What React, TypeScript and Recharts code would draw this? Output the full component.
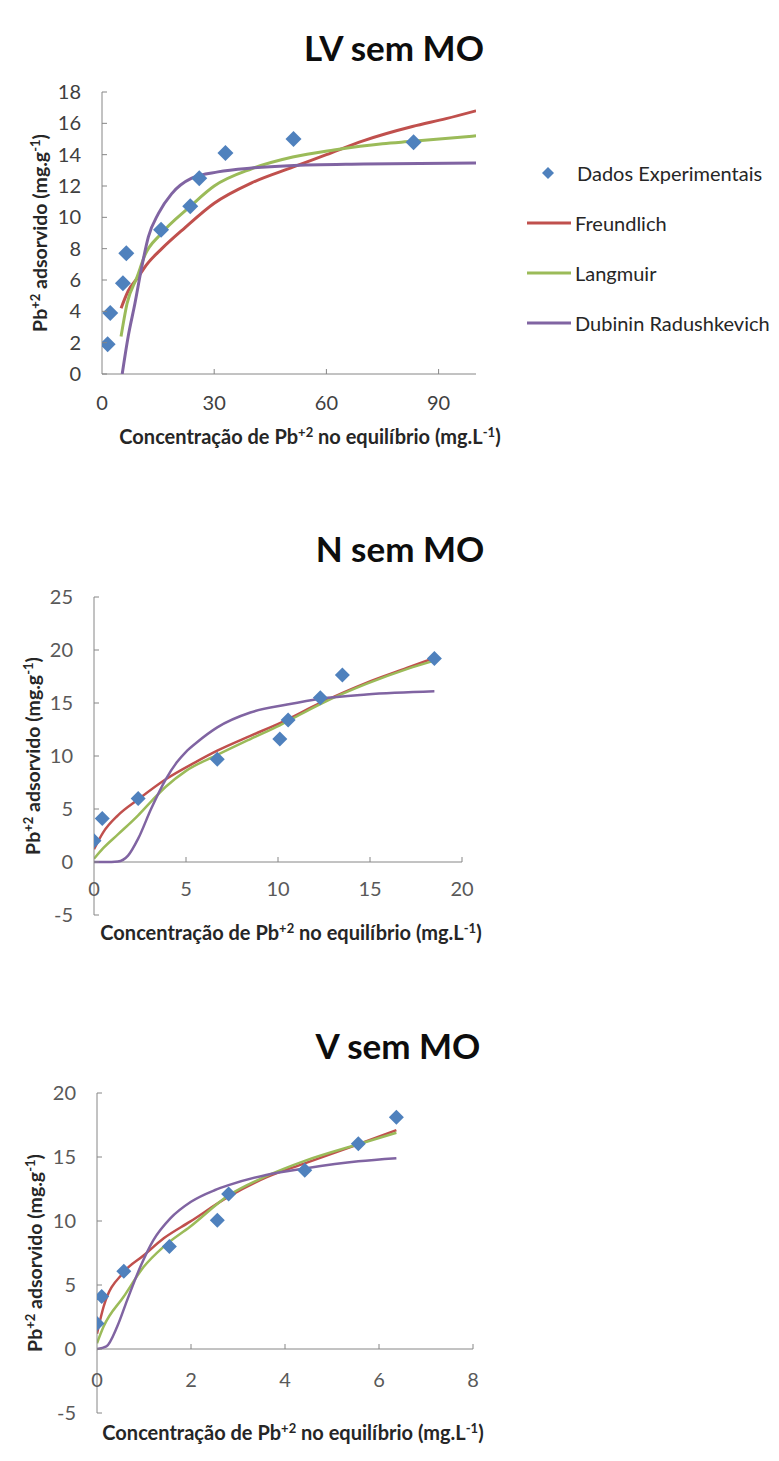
import React from "react";
import { ComposedChart, Scatter, Line, XAxis, YAxis, ReferenceLine } from "recharts";

const FONT = "Lato, 'Open Sans', sans-serif";
const BLUE = "#4F81BD";
const RED = "#C0504D";
const GREEN = "#9BBB59";
const PURPLE = "#8064A2";
const AXIS = "#868686";

// LV sem MO
const lvExpX = [1.5, 2.2, 5.6, 6.5, 15.8, 23.6, 26.0, 33.0, 51.2, 83.3];
const lvExpY = [1.9, 3.9, 5.8, 7.7, 9.2, 10.7, 12.5, 14.1, 15.0, 14.8];
const lvFreundX = [5.1, 7, 9.7, 12, 16, 22, 30, 40, 51, 60, 70, 83, 92, 100];
const lvFreundY = [4.2, 5.3, 6.2, 7.0, 8.0, 9.3, 10.9, 12.2, 13.2, 14.0, 14.9, 15.8, 16.3, 16.8];
const lvLangX = [5.1, 6.7, 9.4, 11.5, 15.6, 23.6, 30, 40, 51, 62, 75, 83, 100];
const lvLangY = [2.4, 4.5, 6.2, 7.6, 8.9, 10.7, 12.0, 13.1, 13.85, 14.3, 14.7, 14.85, 15.2];
const lvDrX = [5.4, 7.0, 8.8, 10.6, 12.4, 15.1, 18.6, 24, 31, 40, 50, 70, 100];
const lvDrY = [0, 2.4, 4.5, 6.8, 8.75, 10.25, 11.5, 12.5, 12.9, 13.15, 13.3, 13.4, 13.47];
const lvXTicks = [0, 30, 60, 90];
const lvYTicks = [0, 2, 4, 6, 8, 10, 12, 14, 16, 18];

// N sem MO
const nExpX = [0, 0.45, 2.4, 6.7, 10.1, 10.55, 12.3, 13.5, 18.5];
const nExpY = [2.0, 4.1, 6.0, 9.7, 11.6, 13.4, 15.5, 17.65, 19.2];
const nFreundX = [0, 0.5, 1.3, 2.4, 3.9, 5.5, 6.7, 8.5, 10.1, 12.3, 14.8, 17, 18.5];
const nFreundY = [1.2, 2.8, 4.4, 5.9, 7.8, 9.4, 10.5, 11.9, 13.1, 15.0, 16.9, 18.3, 19.25];
const nLangX = [0, 0.5, 1.3, 2.4, 3.1, 3.9, 5, 6.7, 8.5, 10.1, 12.3, 14.8, 17, 18.5];
const nLangY = [0.3, 1.3, 2.6, 4.4, 5.7, 7.1, 8.6, 10.1, 11.6, 12.9, 14.9, 16.8, 18.2, 19.0];
const nDrX = [0, 0.6, 1.3, 1.85, 2.4, 3.1, 3.9, 4.5, 5.0, 5.6, 6.7, 8.5, 10.5, 12.3, 14.8, 18.5];
const nDrY = [0, 0, 0.05, 0.6, 2.2, 5.0, 7.8, 9.4, 10.4, 11.3, 12.7, 14.1, 14.85, 15.4, 15.8, 16.1];
const nXTicks = [0, 5, 10, 15, 20];
const nYTicks = [-5, 0, 5, 10, 15, 20, 25];

// V sem MO
const vExpX = [0, 0.1, 0.57, 1.54, 2.56, 2.8, 4.42, 5.56, 6.37];
const vExpY = [2.0, 4.1, 6.07, 8.0, 10.05, 12.1, 13.96, 16.04, 18.1];
const vFreundX = [0, 0.14, 0.57, 0.99, 1.42, 1.98, 2.8, 3.6, 4.42, 5.56, 6.37];
const vFreundY = [1.2, 3.3, 6.0, 7.3, 8.65, 9.95, 11.9, 13.4, 14.5, 16.0, 17.1];
const vLangX = [0, 0.14, 0.57, 0.99, 1.42, 1.98, 2.8, 3.6, 4.42, 5.56, 6.37];
const vLangY = [0.45, 1.75, 4.1, 6.4, 8.0, 9.55, 12.0, 13.5, 14.7, 16.0, 16.9];
const vDrX = [0, 0.2, 0.43, 0.64, 0.92, 1.2, 1.56, 2.0, 2.5, 2.8, 3.6, 4.42, 5.56, 6.37];
const vDrY = [0, 0.2, 1.75, 3.8, 6.4, 8.5, 10.2, 11.5, 12.4, 12.8, 13.6, 14.1, 14.66, 14.9];
const vXTicks = [0, 2, 4, 6, 8];
const vYTicks = [-5, 0, 5, 10, 15, 20];

const legendNames = ["Dados Experimentais", "Freundlich", "Langmuir", "Dubinin Radushkevich"];

const pts = (xs: number[], ys: number[]) => xs.map((x, i) => ({ x, y: ys[i] }));

const Diamond = (r: number) => (props: any) => {
  const { cx, cy } = props;
  if (cx == null || cy == null) return null;
  return (
    <polygon
      points={`${cx},${cy - r} ${cx + r},${cy} ${cx},${cy + r} ${cx - r},${cy}`}
      fill={BLUE}
    />
  );
};

const YTick = ({ x, y, payload, color }: any) => (
  <g>
    <line x1={x} x2={x + 5} y1={y} y2={y} stroke={AXIS} />
    <text x={x - 21} y={y} dy={7} textAnchor="end" fontSize={20} fill={color} fontFamily={FONT}>
      {payload.value}
    </text>
  </g>
);

// shift = distance in px between the plot bottom and the y=0 line
const XTick = ({ x, y, payload, color, shift, off }: any) => {
  const y0 = y - shift;
  return (
    <g>
      {payload.value !== 0 && <line x1={x} x2={x} y1={y0} y2={y0 - 5} stroke={AXIS} />}
      <text x={x} y={y0 + off} textAnchor="middle" fontSize={20} fill={color} fontFamily={FONT}>
        {payload.value}
      </text>
    </g>
  );
};

const YTitle = ({ viewBox, cx }: any) => {
  const cy = viewBox.y + viewBox.height / 2;
  return (
    <text
      transform={`translate(${cx},${cy}) rotate(-90)`}
      textAnchor="middle"
      fontSize={19.5}
      fontWeight="bold"
      fill="#262626"
      fontFamily={FONT}
    >
      Pb<tspan dy={-7} fontSize={13}>+2</tspan>
      <tspan dy={7}> adsorvido (mg.g</tspan>
      <tspan dy={-7} fontSize={13}>-1</tspan>
      <tspan dy={7}>)</tspan>
    </text>
  );
};

const XTitle = ({ viewBox, dx, dy }: any) => (
  <text
    x={viewBox.x + viewBox.width / 2 + dx}
    y={viewBox.y + dy}
    textAnchor="middle"
    fontSize={20}
    fontWeight="bold"
    fill="#262626"
    fontFamily={FONT}
  >
    Concentração de Pb<tspan dy={-7} fontSize={13}>+2</tspan>
    <tspan dy={7}> no equilíbrio (mg.L</tspan>
    <tspan dy={-7} fontSize={13}>-1</tspan>
    <tspan dy={7}>)</tspan>
  </text>
);

type PanelProps = {
  top: number;
  height: number;
  title: string;
  titleX: number;
  titleY: number;
  margin: { top: number; right: number; bottom: number; left: number };
  xDomain: [number, number];
  xTicks: number[];
  yDomain: [number, number];
  yTicks: number[];
  exp: { x: number; y: number }[];
  freund: { x: number; y: number }[];
  lang: { x: number; y: number }[];
  dr: { x: number; y: number }[];
  tickColor: string;
  zeroShift: number;
  xTickOff: number;
  yTitleX: number;
  xTitleDx: number;
  xTitleDy: number;
  r: number;
  lw: number;
  legend?: boolean;
};

function Panel(p: PanelProps) {
  return (
    <div style={{ position: "absolute", left: 0, top: p.top, width: 779, height: p.height }}>
      <div
        style={{
          position: "absolute",
          left: p.titleX - 150,
          top: p.titleY - 22,
          width: 300,
          textAlign: "center",
          fontFamily: FONT,
          fontWeight: "bold",
          fontSize: 35,
          lineHeight: "44px",
          color: "#0d0d0d",
        }}
      >
        {p.title}
      </div>
      <ComposedChart width={779} height={p.height} margin={p.margin}>
        <XAxis
          type="number"
          dataKey="x"
          domain={p.xDomain}
          ticks={p.xTicks}
          interval={0}
          allowDataOverflow
          axisLine={false}
          tickLine={false}
          tickSize={0}
          tickMargin={0}
          height={40}
          tick={<XTick color={p.tickColor} shift={p.zeroShift} off={p.xTickOff} />}
          label={<XTitle dx={p.xTitleDx} dy={p.xTitleDy} />}
        />
        <YAxis
          type="number"
          dataKey="y"
          domain={p.yDomain}
          ticks={p.yTicks}
          interval={0}
          allowDataOverflow
          width={60}
          axisLine={{ stroke: AXIS }}
          tickLine={false}
          tickSize={0}
          tickMargin={0}
          tick={<YTick color={p.tickColor} />}
          label={<YTitle cx={p.yTitleX} />}
        />
        <ReferenceLine y={0} stroke={AXIS} />
        <Scatter data={p.exp} shape={Diamond(p.r)} isAnimationActive={false} />
        <Line data={p.freund} dataKey="y" type="monotone" stroke={RED} strokeWidth={p.lw} dot={false} isAnimationActive={false} />
        <Line data={p.lang} dataKey="y" type="monotone" stroke={GREEN} strokeWidth={p.lw} dot={false} isAnimationActive={false} />
        <Line data={p.dr} dataKey="y" type="monotone" stroke={PURPLE} strokeWidth={p.lw} dot={false} isAnimationActive={false} />
      </ComposedChart>
      {p.legend && (
        <div style={{ position: "absolute", left: 525, top: 148, fontFamily: FONT, fontSize: 20, color: "#262626" }}>
          {legendNames.map((name, i) => (
            <div key={name} style={{ display: "flex", alignItems: "center", height: 50 }}>
              <svg width={48} height={20} style={{ marginRight: 2 }}>
                {i === 0 ? (
                  <polygon points="23,4 29,10 23,16 17,10" fill={BLUE} />
                ) : (
                  <line x1={2} x2={46} y1={10} y2={10} stroke={[RED, GREEN, PURPLE][i - 1]} strokeWidth={3} />
                )}
              </svg>
              <span style={{ marginLeft: i === 0 ? 2 : 0 }}>{name}</span>
            </div>
          ))}
        </div>
      )}
    </div>
  );
}

export default function App() {
  return (
    <div style={{ position: "absolute", left: 0, top: 0, width: 779, height: 1461, background: "#fff" }}>
      <Panel
        top={0}
        height={460}
        title="LV sem MO"
        titleX={394}
        titleY={47}
        margin={{ top: 92, right: 303, bottom: 46, left: 42 }}
        xDomain={[0, 100]}
        xTicks={lvXTicks}
        yDomain={[0, 18]}
        yTicks={lvYTicks}
        exp={pts(lvExpX, lvExpY)}
        freund={pts(lvFreundX, lvFreundY)}
        lang={pts(lvLangX, lvLangY)}
        dr={pts(lvDrX, lvDrY)}
        tickColor="#404040"
        zeroShift={0}
        xTickOff={36}
        yTitleX={47}
        xTitleDx={21}
        xTitleDy={70}
        r={8}
        lw={3}
        legend
      />
      <Panel
        top={500}
        height={460}
        title="N sem MO"
        titleX={400}
        titleY={48}
        margin={{ top: 97, right: 317, bottom: 5, left: 34 }}
        xDomain={[0, 20]}
        xTicks={nXTicks}
        yDomain={[-5, 25]}
        yTicks={nYTicks}
        exp={pts(nExpX, nExpY)}
        freund={pts(nFreundX, nFreundY)}
        lang={pts(nLangX, nLangY)}
        dr={pts(nDrX, nDrY)}
        tickColor="#595959"
        zeroShift={53}
        xTickOff={34}
        yTitleX={40}
        xTitleDx={13}
        xTitleDy={25}
        r={7.5}
        lw={2.5}
      />
      <Panel
        top={1000}
        height={461}
        title="V sem MO"
        titleX={398}
        titleY={45}
        margin={{ top: 93, right: 306, bottom: 8, left: 37 }}
        xDomain={[0, 8]}
        xTicks={vXTicks}
        yDomain={[-5, 20]}
        yTicks={vYTicks}
        exp={pts(vExpX, vExpY)}
        freund={pts(vFreundX, vFreundY)}
        lang={pts(vLangX, vLangY)}
        dr={pts(vDrX, vDrY)}
        tickColor="#595959"
        zeroShift={64}
        xTickOff={38}
        yTitleX={42}
        xTitleDx={8}
        xTitleDy={27}
        r={7.5}
        lw={2.5}
      />
    </div>
  );
}
